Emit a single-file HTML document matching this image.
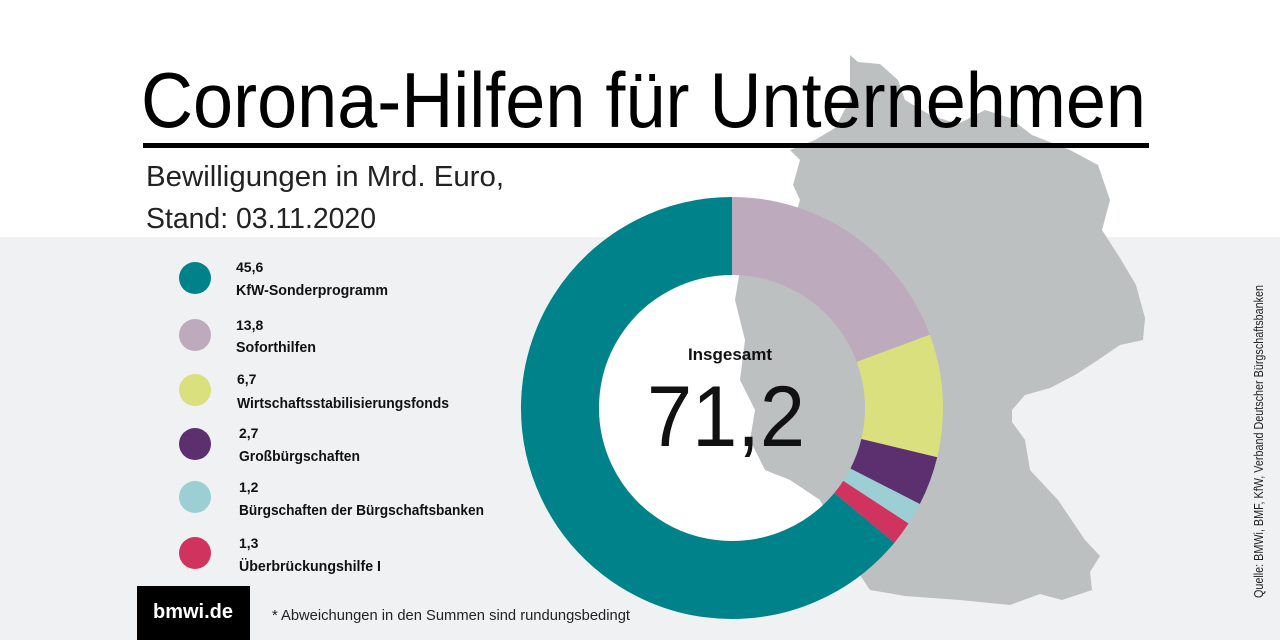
<!DOCTYPE html>
<html><head><meta charset="utf-8"><style>
html,body{margin:0;padding:0;width:1280px;height:640px;overflow:hidden;background:#fff}
svg{display:block}
text{font-family:"Liberation Sans",sans-serif}
</style></head><body>
<svg width="1280" height="640" viewBox="0 0 1280 640">
<rect x="0" y="0" width="1280" height="640" fill="#fff"/>
<rect x="0" y="237" width="1280" height="403" fill="#eff1f3"/>
<circle cx="732" cy="408" r="134" fill="#fff"/>
<path fill="#bcc0c1" d="M850,55 L858,62 L880,64 L898,80 L905,100 L930,115 L958,124 L985,110 L1010,118 L1032,135 L1070,150 L1098,165 L1110,200 L1102,230 L1120,258 L1136,285 L1145,318 L1143,340 L1120,345 L1098,360 L1075,375 L1050,388 L1025,395 L1012,410 L1012,422 L1025,440 L1030,470 L1058,500 L1085,540 L1100,556 L1090,572 L1092,590 L1062,600 L1040,594 L1010,605 L960,600 L905,596 L870,590 L850,560 L820,500 L790,480 L765,470 L750,440 L755,410 L740,380 L745,340 L735,300 L740,270 L760,245 L790,232 L800,200 L793,185 L800,160 L790,150 L815,140 L835,128 L850,100 Z"/>
<g fill="none" stroke-width="78">
<path stroke="#bdabbd" d="M732,236 A172,172 0 0 1 893.3,348.3"/>
<path stroke="#dbe07e" d="M893.3,348.3 A172,172 0 0 1 899.3,448.1"/>
<path stroke="#5c2f6e" d="M899.3,448.1 A172,172 0 0 1 885.1,486.3"/>
<path stroke="#9bcfd3" d="M885.1,486.3 A172,172 0 0 1 875.9,502.2"/>
<path stroke="#d1335f" d="M875.9,502.2 A172,172 0 0 1 864.3,517.9"/>
<path stroke="#00828a" d="M864.3,517.9 A172,172 0 1 1 732,236"/>
</g>
<text x="141" y="127" font-size="78" textLength="1005" lengthAdjust="spacingAndGlyphs" fill="#000">Corona-Hilfen für Unternehmen</text>
<rect x="143" y="143" width="1006" height="5" fill="#000"/>
<text x="146" y="186" font-size="29" fill="#222" textLength="358" lengthAdjust="spacingAndGlyphs">Bewilligungen in Mrd. Euro,</text>
<text x="146" y="228" font-size="29" fill="#222" textLength="230" lengthAdjust="spacingAndGlyphs">Stand: 03.11.2020</text>
<g font-size="15" font-weight="bold" fill="#111">
<circle cx="195" cy="278" r="16" fill="#00828a"/>
<text x="236" y="272" font-size="14">45,6</text><text x="236" y="295" textLength="152" lengthAdjust="spacingAndGlyphs">KfW-Sonderprogramm</text>
<circle cx="195" cy="335" r="16" fill="#bdabbd"/>
<text x="236" y="330" font-size="14">13,8</text><text x="236" y="352" textLength="80" lengthAdjust="spacingAndGlyphs">Soforthilfen</text>
<circle cx="195" cy="390" r="16" fill="#dbe07e"/>
<text x="237" y="384" font-size="14">6,7</text><text x="237" y="408" textLength="212" lengthAdjust="spacingAndGlyphs">Wirtschaftsstabilisierungsfonds</text>
<circle cx="195" cy="444" r="16" fill="#5c2f6e"/>
<text x="239" y="438" font-size="14">2,7</text><text x="239" y="461" textLength="121" lengthAdjust="spacingAndGlyphs">Großbürgschaften</text>
<circle cx="195" cy="497" r="16" fill="#9bcfd3"/>
<text x="239" y="492" font-size="14">1,2</text><text x="239" y="515" textLength="245" lengthAdjust="spacingAndGlyphs">Bürgschaften der Bürgschaftsbanken</text>
<circle cx="195" cy="553" r="16" fill="#d1335f"/>
<text x="239" y="548" font-size="14">1,3</text><text x="239" y="571" textLength="142" lengthAdjust="spacingAndGlyphs">Überbrückungshilfe I</text>
</g>
<rect x="137" y="586" width="113" height="54" fill="#000"/>
<text x="193" y="618" font-size="20" font-weight="bold" fill="#fff" text-anchor="middle">bmwi.de</text>
<text x="272" y="620" font-size="15" fill="#222" textLength="358" lengthAdjust="spacingAndGlyphs">* Abweichungen in den Summen sind rundungsbedingt</text>
<text x="730" y="360" font-size="17" font-weight="bold" text-anchor="middle" fill="#111">Insgesamt</text>
<text x="726" y="446" font-size="86" text-anchor="middle" fill="#111" textLength="158" lengthAdjust="spacingAndGlyphs">71,2</text>
<text transform="translate(1263,598) rotate(-90)" font-size="12.5" fill="#222" textLength="313" lengthAdjust="spacingAndGlyphs">Quelle: BMWi, BMF, KfW, Verband Deutscher Bürgschaftsbanken</text>
</svg>
</body></html>
